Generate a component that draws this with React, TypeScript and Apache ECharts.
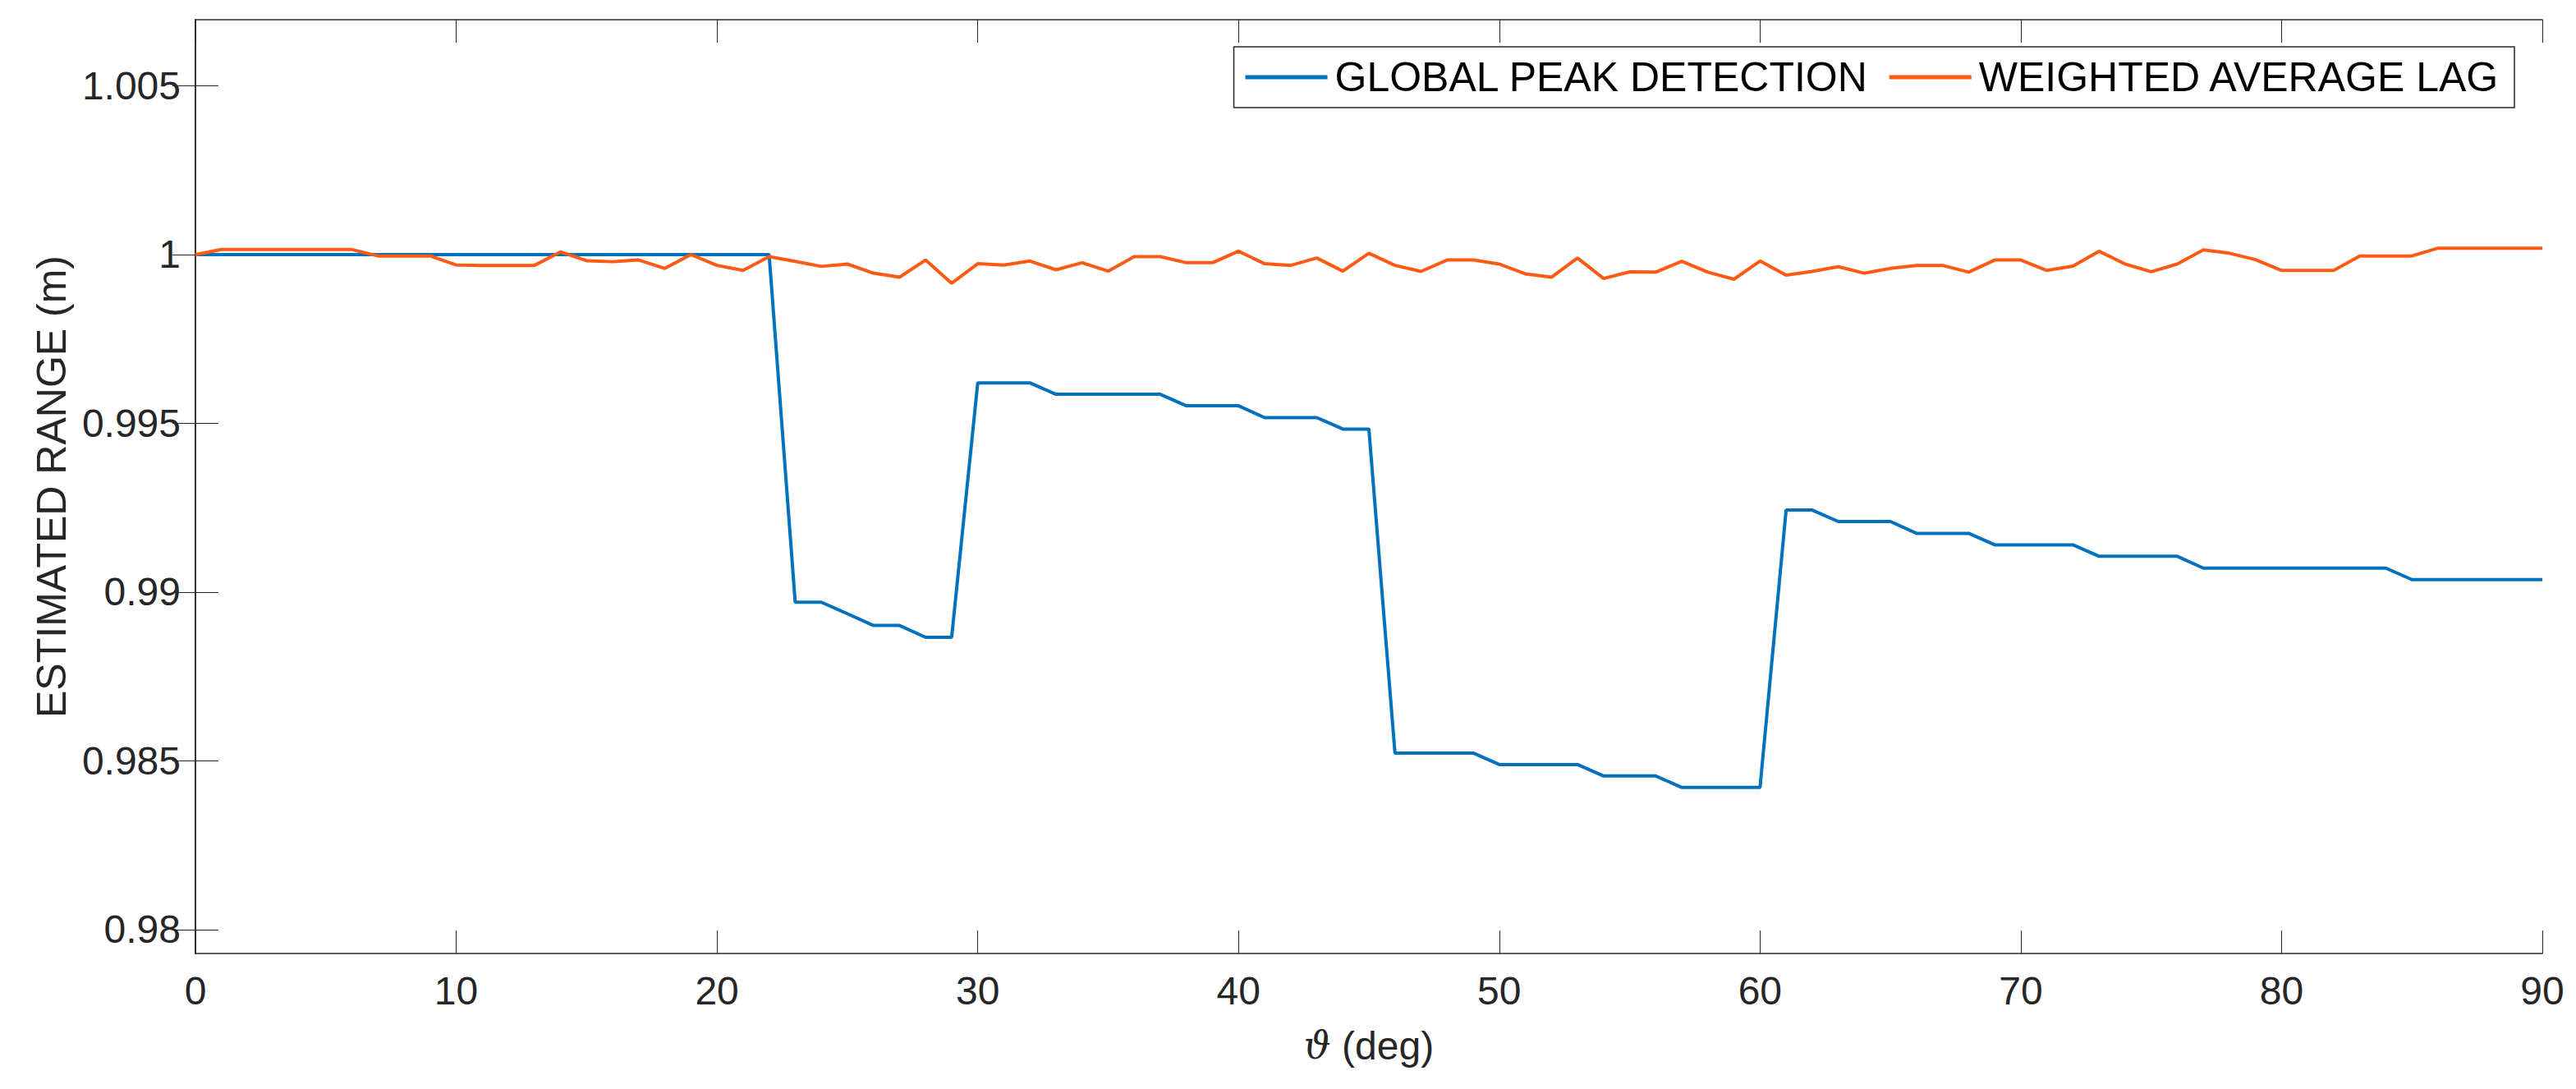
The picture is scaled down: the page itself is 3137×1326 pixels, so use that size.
import React, { useEffect, useRef } from "react";
import * as echarts from "echarts";

const ANGLES = [
  0, 1, 2, 3, 4, 5, 6, 7, 8, 9, 10, 11, 12, 13, 14, 15, 16, 17, 18, 19, 20,
  21, 22, 23, 24, 25, 26, 27, 28, 29, 30, 31, 32, 33, 34, 35, 36, 37, 38, 39,
  40, 41, 42, 43, 44, 45, 46, 47, 48, 49, 50, 51, 52, 53, 54, 55, 56, 57, 58,
  59, 60, 61, 62, 63, 64, 65, 66, 67, 68, 69, 70, 71, 72, 73, 74, 75, 76, 77,
  78, 79, 80, 81, 82, 83, 84, 85, 86, 87, 88, 89, 90,
];

const GLOBAL_PEAK = [
  1.0, 1.0, 1.0, 1.0, 1.0, 1.0, 1.0, 1.0, 1.0, 1.0, 1.0, 1.0, 1.0, 1.0, 1.0,
  1.0, 1.0, 1.0, 1.0, 1.0, 1.0, 1.0, 1.0,
  0.9897, 0.9897, 0.98936, 0.98901, 0.98901, 0.98866, 0.98866,
  0.9962, 0.9962, 0.9962, 0.99586, 0.99586, 0.99586, 0.99586, 0.99586,
  0.99552, 0.99552, 0.99552, 0.99517, 0.99517, 0.99517, 0.99483, 0.99483,
  0.98523, 0.98523, 0.98523, 0.98523, 0.98489, 0.98489, 0.98489, 0.98489,
  0.98455, 0.98455, 0.98455, 0.98421, 0.98421, 0.98421, 0.98421,
  0.99243, 0.99243, 0.99209, 0.99209, 0.99209, 0.99174, 0.99174, 0.99174,
  0.9914, 0.9914, 0.9914, 0.9914, 0.99106, 0.99106, 0.99106, 0.99106,
  0.99071, 0.99071, 0.99071, 0.99071, 0.99071, 0.99071, 0.99071, 0.99071,
  0.99037, 0.99037, 0.99037, 0.99037, 0.99037, 0.99037,
];

const WEIGHTED_LAG = [
  1.0, 1.00015, 1.00015, 1.00015, 1.00015, 1.00015, 1.00015, 0.99996, 0.99996,
  0.99996, 0.99969, 0.99968, 0.99968, 0.99968, 1.00008, 0.99982, 0.99979,
  0.99984, 0.99959, 1.0, 0.99968, 0.99953, 0.99994, 0.9998, 0.99965, 0.99972,
  0.99945, 0.99933, 0.99984, 0.99915, 0.99973, 0.99969, 0.99981, 0.99955,
  0.99976, 0.99951, 0.99994, 0.99994, 0.99976, 0.99976, 1.0001, 0.99973,
  0.99968, 0.9999, 0.99951, 1.00004, 0.99968, 0.9995, 0.99984, 0.99984,
  0.99972, 0.99943, 0.99933, 0.9999, 0.99929, 0.99949, 0.99948, 0.9998,
  0.99948, 0.99927, 0.99981, 0.99939, 0.9995, 0.99964, 0.99945, 0.99959,
  0.99968, 0.99968, 0.99948, 0.99984, 0.99984, 0.99953, 0.99966, 1.0001,
  0.99972, 0.99949, 0.99972, 1.00014, 1.00004, 0.99985, 0.99953, 0.99953,
  0.99953, 0.99996, 0.99996, 0.99996, 1.00019, 1.00019, 1.00019, 1.00019,
  1.00019,
];

const SERIES_NAMES = ["GLOBAL PEAK DETECTION", "WEIGHTED AVERAGE LAG"];
const SERIES_COLORS = ["#0072BD", "#FF5A14"];
const X_TICKS = [0, 10, 20, 30, 40, 50, 60, 70, 80, 90];
const Y_TICKS = [0.98, 0.985, 0.99, 0.995, 1, 1.005];
const X_RANGE = [0, 90];
const Y_RANGE = [0.97929, 1.00696];

const FONT = "'Liberation Sans', Arial, Helvetica, sans-serif";
const INK = "#262626";

function App() {
  const ref = useRef<HTMLDivElement>(null);

  useEffect(() => {
    if (!ref.current) return;
    const chart = echarts.init(ref.current, null, { renderer: "svg" });

    const axisLine = { show: true, lineStyle: { color: INK, width: 1.5 } };
    const tickStyle = { color: INK, width: 1 };

    const fmtY = (v: number) => String(parseFloat(Number(v).toFixed(4)));

    chart.setOption({
      animation: false,
      backgroundColor: "#ffffff",
      grid: { left: 238, right: 41, top: 24, bottom: 165 },
      legend: {
        data: SERIES_NAMES,
        right: 75,
        top: 57,
        orient: "horizontal",
        icon: "rect",
        itemWidth: 100,
        itemHeight: 5,
        itemGap: 25,
        padding: [12, 17, 12, 14],
        borderColor: INK,
        borderWidth: 1.5,
        backgroundColor: "#ffffff",
        textStyle: {
          fontFamily: FONT,
          fontSize: 50,
          color: "#000000",
          padding: [0, 0, 0, 4],
        },
      },
      xAxis: [
        {
          type: "value",
          min: X_RANGE[0],
          max: X_RANGE[1],
          position: "bottom",
          axisLine,
          axisTick: {
            show: true,
            inside: true,
            length: 28,
            customValues: X_TICKS,
            lineStyle: tickStyle,
          },
          axisLabel: {
            show: true,
            customValues: X_TICKS,
            fontFamily: FONT,
            fontSize: 48,
            color: INK,
            margin: 21,
          },
          splitLine: { show: false },
          name: "{t|ϑ} (deg)",
          nameLocation: "middle",
          nameGap: 88,
          nameTextStyle: {
            fontFamily: FONT,
            fontSize: 48,
            color: INK,
            rich: {
              t: {
                fontFamily: "'DejaVu Serif', serif",
                fontStyle: "italic",
                fontSize: 46,
                color: INK,
              },
            },
          },
        },
        {
          type: "value",
          min: X_RANGE[0],
          max: X_RANGE[1],
          position: "top",
          axisLine,
          axisTick: {
            show: true,
            inside: true,
            length: 28,
            customValues: X_TICKS,
            lineStyle: tickStyle,
          },
          axisLabel: { show: false },
          splitLine: { show: false },
        },
      ],
      yAxis: [
        {
          type: "value",
          min: Y_RANGE[0],
          max: Y_RANGE[1],
          position: "left",
          axisLine,
          axisTick: {
            show: true,
            inside: true,
            length: 28,
            customValues: Y_TICKS,
            lineStyle: tickStyle,
          },
          axisLabel: {
            show: true,
            customValues: Y_TICKS,
            fontFamily: FONT,
            fontSize: 48,
            color: INK,
            margin: 18,
            formatter: fmtY,
          },
          splitLine: { show: false },
          name: "ESTIMATED RANGE (m)",
          nameLocation: "middle",
          nameGap: 150,
          nameRotate: 90,
          nameTextStyle: {
            fontFamily: FONT,
            fontSize: 50,
            color: INK,
          },
        },
        {
          type: "value",
          min: Y_RANGE[0],
          max: Y_RANGE[1],
          position: "right",
          axisLine,
          axisTick: {
            show: true,
            inside: true,
            length: 28,
            customValues: Y_TICKS,
            lineStyle: tickStyle,
          },
          axisLabel: { show: false },
          splitLine: { show: false },
        },
      ],
      series: [
        {
          name: SERIES_NAMES[0],
          type: "line",
          xAxisIndex: 0,
          yAxisIndex: 0,
          data: ANGLES.map((a, i) => [a, GLOBAL_PEAK[i]]),
          showSymbol: false,
          symbol: "none",
          color: SERIES_COLORS[0],
          lineStyle: { color: SERIES_COLORS[0], width: 4 },
        },
        {
          name: SERIES_NAMES[1],
          type: "line",
          xAxisIndex: 0,
          yAxisIndex: 0,
          data: ANGLES.map((a, i) => [a, WEIGHTED_LAG[i]]),
          showSymbol: false,
          symbol: "none",
          color: SERIES_COLORS[1],
          lineStyle: { color: SERIES_COLORS[1], width: 4 },
        },
      ],
    });

    return () => chart.dispose();
  }, []);

  return (
    <div
      ref={ref}
      style={{
        position: "fixed",
        left: 0,
        top: 0,
        width: 3137,
        height: 1326,
        background: "#ffffff",
      }}
    />
  );
}

export default App;
